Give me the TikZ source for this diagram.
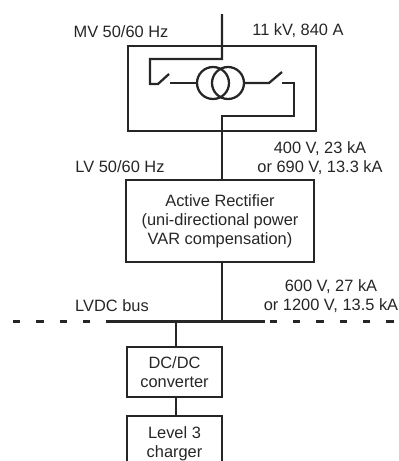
\documentclass[tikz,border=0pt]{standalone}
\usepackage{fontspec}
\setmainfont{Liberation Sans}
\begin{document}
\begin{tikzpicture}[x=0.75pt,y=-0.75pt,
  wire/.style={line width=1.7pt,draw=black!85},
  boxn/.style={wire,rectangle,inner sep=0pt,align=center,font=\fontsize{12.3}{14.2}\selectfont,text=black!85},
  lbl/.style={inner sep=0pt,align=center,font=\fontsize{12.3}{14.2}\selectfont,text=black!85},
  every node/.append style={anchor=center}]
\useasboundingbox (0,0) rectangle (399,461);
% boxes
\node[boxn,minimum width=141pt,minimum height=64pt] (xf) at (222,88.5) {};
\node[boxn,minimum width=141pt,minimum height=61.5pt] (rect) at (220,221) {Active Rectifier\\(uni-directional power\\VAR compensation)};
\node[boxn,minimum width=71pt,minimum height=37.5pt] (dc) at (174.5,372) {DC/DC\\converter};
\node[lbl,minimum width=71pt,minimum height=33.75pt] (chg) at (174.5,438.5) {\rule{0pt}{16.2pt}Level 3\\charger};
\draw[wire] (chg.south west) |- (chg.north east) -- (chg.south east);
% coordinates
\coordinate (top) at (222,14);
\coordinate (t1) at (222,59);
\coordinate (t2) at (150,59);
\coordinate (t3) at (150,84);
\coordinate (b1) at (158,84);
\coordinate (b2) at (169,74);
\coordinate (w1) at (170,83);
\node[draw=black!85,line width=1.7pt,circle,minimum size=24pt,inner sep=0pt] (c1) at (213,83) {};
\node[draw=black!85,line width=1.7pt,circle,minimum size=24pt,inner sep=0pt] (c2) at (228,83) {};
\coordinate (b3) at (269,83);
\coordinate (b4) at (282,72);
\coordinate (r1) at (282,83);
\coordinate (r2) at (294,83);
\coordinate (r3) at (294,116);
\coordinate (r4) at (222,116);
\coordinate (mid) at (222,180);
\coordinate (m2) at (222,262);
\coordinate (bus) at (222,321.5);
\coordinate (busL) at (108,321.5);
\coordinate (busR) at (265,321.5);
\coordinate (dashL) at (13,321.5);
\coordinate (dashR) at (399,321.5);
\coordinate (tap) at (176,321.5);
\coordinate (dcT) at (176,347);
\coordinate (dcB) at (176,397);
\coordinate (chT) at (176,416);
% wires
\draw[wire] (top) -- (t1) -- (t2) -- (t3) -- (b1) -- (b2);
\draw[wire] (w1) -- (c1.west);
\draw[wire] (c2.east) -- (b3) -- (b4);
\draw[wire] (r1) -- (r2) -- (r3) -- (r4) -- (mid);
\draw[wire] (m2) -- (bus);
\draw[line width=2.3pt,draw=black!85] (busL) -- (busR);
\draw[line width=2.5pt,draw=black!85,dash pattern=on 5.5pt off 12pt] (dashL) -- (dashR);
\draw[wire] (tap) -- (dcT);
\draw[wire] (dcB) -- (chT);
% labels
\node[lbl] (l1) at (121,32) {MV 50/60 Hz};
\node[lbl] (l2) at (298,31) {11 kV, 840 A};
\node[lbl] (l3) at (320,158) {400 V, 23 kA\\or 690 V, 13.3 kA};
\node[lbl] (l4) at (120,167) {LV 50/60 Hz};
\node[lbl] (l5) at (331,296) {600 V, 27 kA\\or 1200 V, 13.5 kA};
\node[lbl] (l6) at (112,306) {LVDC bus};
\end{tikzpicture}
\end{document}
